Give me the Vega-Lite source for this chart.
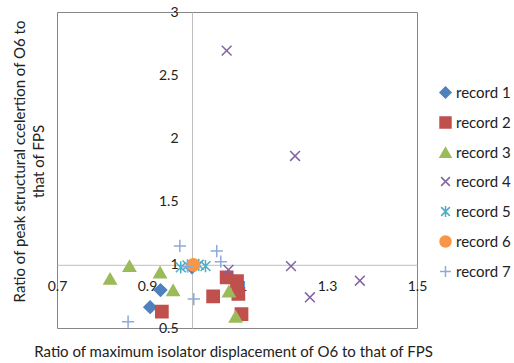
{
  "$schema": "https://vega.github.io/schema/vega-lite/v6.json",
  "width": 360,
  "height": 316,
  "autosize": {"type": "none"},
  "padding": {"left": 57, "top": 12, "right": 97, "bottom": 35},
  "background": "white",
  "config": {
    "font": "Lato",
    "view": {"stroke": "#868686", "strokeWidth": 1},
    "axis": {
      "grid": false,
      "ticks": false,
      "domainColor": "#BFBFBF",
      "domainWidth": 1,
      "labelFont": "Lato",
      "labelFontSize": 14,
      "labelColor": "#222222",
      "labelOverlap": false,
      "labelBound": false,
      "labelFlush": false,
      "titleFont": "Lato",
      "titleFontSize": 15,
      "titleFontWeight": "normal",
      "titleColor": "#222222",
      "titleLimit": 1000
    },
    "legend": {
      "labelFont": "Lato",
      "labelFontSize": 15,
      "labelColor": "#222222"
    }
  },
  "data": {
    "values": [
      {"record": "record 1", "disp": 0.930, "acc": 0.800},
      {"record": "record 1", "disp": 0.907, "acc": 0.665},
      {"record": "record 1", "disp": 1.000, "acc": 0.980},
      {"record": "record 2", "disp": 1.077, "acc": 0.900},
      {"record": "record 2", "disp": 1.100, "acc": 0.870},
      {"record": "record 2", "disp": 1.103, "acc": 0.770},
      {"record": "record 2", "disp": 1.047, "acc": 0.750},
      {"record": "record 2", "disp": 1.110, "acc": 0.610},
      {"record": "record 2", "disp": 0.933, "acc": 0.630},
      {"record": "record 3", "disp": 0.818, "acc": 0.890},
      {"record": "record 3", "disp": 0.861, "acc": 0.990},
      {"record": "record 3", "disp": 0.929, "acc": 0.940},
      {"record": "record 3", "disp": 0.958, "acc": 0.800},
      {"record": "record 3", "disp": 1.082, "acc": 0.790},
      {"record": "record 3", "disp": 1.097, "acc": 0.590},
      {"record": "record 4", "disp": 1.077, "acc": 2.694},
      {"record": "record 4", "disp": 1.229, "acc": 1.861},
      {"record": "record 4", "disp": 1.220, "acc": 0.990},
      {"record": "record 4", "disp": 1.081, "acc": 0.960},
      {"record": "record 4", "disp": 1.262, "acc": 0.743},
      {"record": "record 4", "disp": 1.373, "acc": 0.874},
      {"record": "record 5", "disp": 0.975, "acc": 0.980},
      {"record": "record 5", "disp": 0.990, "acc": 0.995},
      {"record": "record 5", "disp": 1.015, "acc": 1.000},
      {"record": "record 5", "disp": 1.030, "acc": 0.990},
      {"record": "record 6", "disp": 1.003, "acc": 1.000},
      {"record": "record 7", "disp": 0.973, "acc": 1.149},
      {"record": "record 7", "disp": 1.055, "acc": 1.109},
      {"record": "record 7", "disp": 1.064, "acc": 1.025},
      {"record": "record 7", "disp": 0.990, "acc": 0.985},
      {"record": "record 7", "disp": 1.004, "acc": 0.729},
      {"record": "record 7", "disp": 0.858, "acc": 0.550}
    ]
  },
  "mark": {"type": "point", "filled": true, "size": 150, "strokeWidth": 1.5, "opacity": 1},
  "encoding": {
    "x": {
      "field": "disp",
      "type": "quantitative",
      "scale": {"domain": [0.7, 1.5], "nice": false, "zero": false},
      "axis": {
        "title": "Ratio of maximum isolator displacement of O6 to that of FPS",
        "values": [0.7, 0.9, 1.1, 1.3, 1.5],
        "format": "~g",
        "offset": -63.2,
        "labelPadding": 15,
        "titleX": 176,
        "titleY": 92,
        "titleBaseline": "alphabetic",
        "titleAnchor": "middle"
      }
    },
    "y": {
      "field": "acc",
      "type": "quantitative",
      "scale": {"domain": [0.5, 3], "nice": false, "zero": false},
      "axis": {
        "title": ["Ratio of peak structural ccelertion of  O6 to", "that of FPS"],
        "values": [0.5, 1, 1.5, 2, 2.5, 3],
        "format": "~g",
        "offset": -135,
        "labelPadding": 14,
        "titleAngle": -90,
        "titleAlign": "center",
        "titleBaseline": "middle",
        "titleLineHeight": 19,
        "titleX": -173,
        "titleY": 149
      }
    },
    "shape": {
      "field": "record",
      "type": "nominal",
      "scale": {
        "domain": ["record 1", "record 2", "record 3", "record 4", "record 5", "record 6", "record 7"],
        "range": [
          "diamond",
          "square",
          "triangle-up",
          "M-0.8,-0.8L0.8,0.8M-0.8,0.8L0.8,-0.8",
          "M-0.8,-0.8L0.8,0.8M-0.8,0.8L0.8,-0.8M0,-1L0,1",
          "circle",
          "M-1,0L1,0M0,-1L0,1"
        ]
      },
      "legend": {
        "title": null,
        "orient": "none",
        "legendX": 381,
        "legendY": 73,
        "rowPadding": 13,
        "symbolSize": 120,
        "symbolStrokeWidth": 1.5,
        "labelOffset": 3
      }
    },
    "fill": {
      "field": "record",
      "type": "nominal",
      "scale": {
        "domain": ["record 1", "record 2", "record 3", "record 4", "record 5", "record 6", "record 7"],
        "range": ["#4F81BD", "#C0504D", "#9BBB59", "#8064A2", "#4BACC6", "#F79646", "#8EA9DB"]
      },
      "legend": {
        "title": null,
        "orient": "none",
        "legendX": 381,
        "legendY": 73,
        "rowPadding": 13,
        "symbolSize": 120,
        "symbolStrokeWidth": 1.5,
        "labelOffset": 3
      }
    },
    "stroke": {
      "field": "record",
      "type": "nominal",
      "scale": {
        "domain": ["record 1", "record 2", "record 3", "record 4", "record 5", "record 6", "record 7"],
        "range": ["#4F81BD", "#C0504D", "#9BBB59", "#8064A2", "#4BACC6", "#F79646", "#8EA9DB"]
      },
      "legend": {
        "title": null,
        "orient": "none",
        "legendX": 381,
        "legendY": 73,
        "rowPadding": 13,
        "symbolSize": 120,
        "symbolStrokeWidth": 1.5,
        "labelOffset": 3
      }
    }
  }
}
